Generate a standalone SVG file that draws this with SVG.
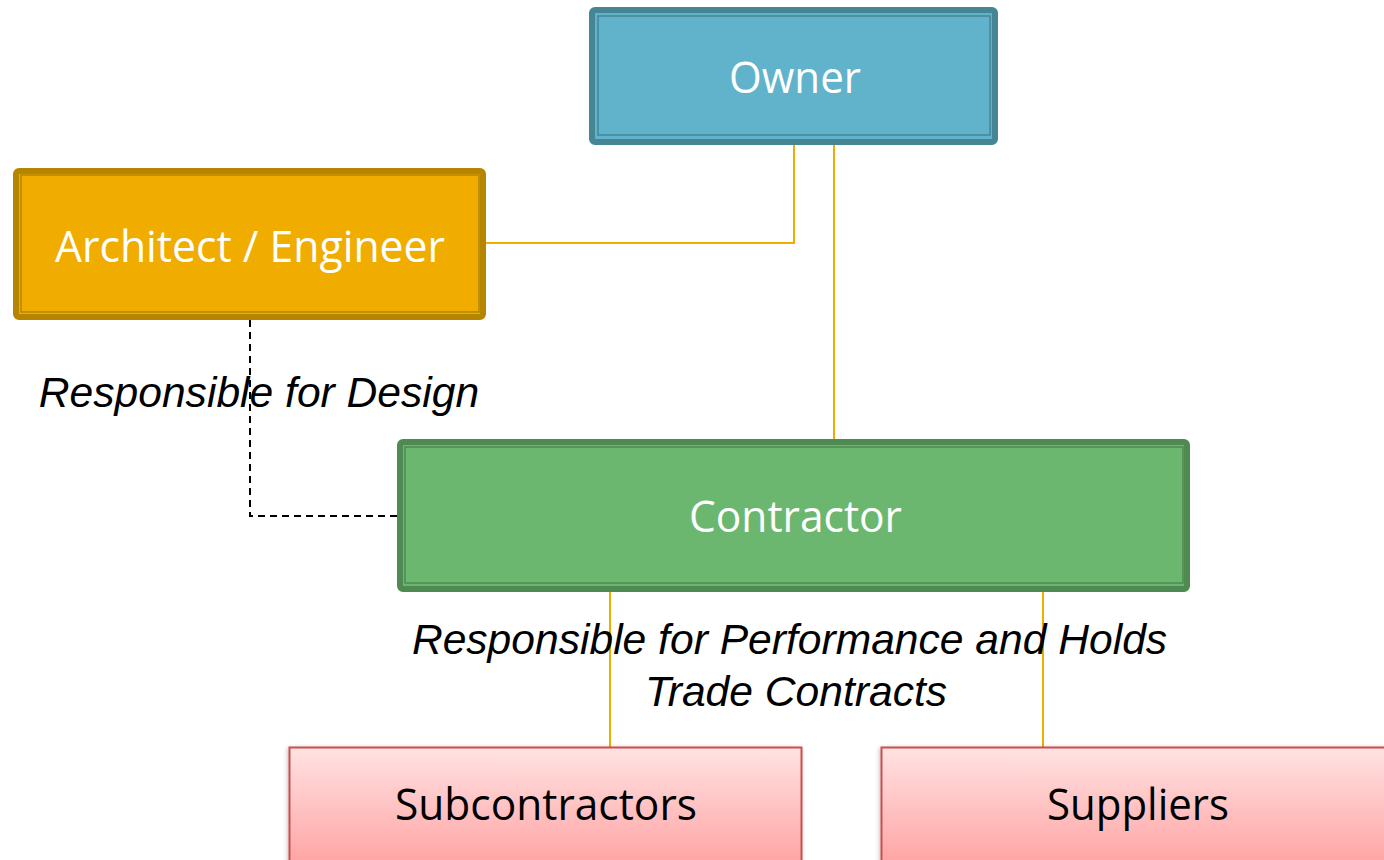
<svg xmlns="http://www.w3.org/2000/svg" width="1384" height="860" viewBox="0 0 1384 860">
<style>
.box-label{font-family:"Open Sans","Noto Sans",sans-serif;font-size:44px;text-anchor:middle;fill:#ffffff}
.sub-label{font-family:"Open Sans","Noto Sans",sans-serif;font-size:44px;text-anchor:middle;fill:#000000}
.note{font-family:"Liberation Sans",Arial,sans-serif;font-size:42.6px;font-style:italic;text-anchor:middle;fill:#000000}
.conn{fill:none;stroke:#f0ad00;stroke-width:2}
.dash{fill:none;stroke:#000000;stroke-width:2;stroke-dasharray:7 5}
.inner{fill:none;stroke-width:1.5}
</style>
<defs>
<linearGradient id="pink" x1="0" y1="0" x2="0" y2="1">
<stop offset="0" stop-color="#ffe2e2"/>
<stop offset="1" stop-color="#ffa2a2"/>
</linearGradient>
<filter id="sh" x="-5%" y="-5%" width="110%" height="110%">
<feDropShadow dx="-1" dy="1" stdDeviation="2" flood-color="#000" flood-opacity="0.25"/>
</filter>
</defs>
<rect width="1384" height="860" fill="#ffffff"/>
<g id="connectors">
<polyline class="conn" points="794,145 794,243 486,243"/>
<line class="conn" x1="834" y1="145" x2="834" y2="439"/>
<line class="conn" x1="610" y1="592" x2="610" y2="747"/>
<line class="conn" x1="1043" y1="592" x2="1043" y2="747"/>
<polyline class="dash" points="250,320 250,516 397,516"/>
</g>
<g id="owner">
<rect x="592" y="10" width="403" height="132" rx="3" fill="#61b3cb" stroke="#468594" stroke-width="6"/>
<rect class="inner" x="598" y="16" width="392" height="119" stroke="#468594"/>
<text class="box-label" x="795" y="93" textLength="132" lengthAdjust="spacingAndGlyphs">Owner</text>
</g>
<g id="architect">
<rect x="16" y="171" width="467" height="146" rx="3" fill="#f0ad00" stroke="#b58500" stroke-width="6"/>
<rect class="inner" x="21" y="175" width="458" height="137" stroke="#b58500"/>
<text class="box-label" x="250" y="262" textLength="390" lengthAdjust="spacingAndGlyphs">Architect / Engineer</text>
</g>
<g id="contractor">
<rect x="400" y="442" width="787" height="147" rx="3" fill="#6cb76f" stroke="#4e8a52" stroke-width="6"/>
<rect class="inner" x="405" y="447" width="778" height="136" stroke="#4e8a52"/>
<text class="box-label" x="795.5" y="532" textLength="213" lengthAdjust="spacingAndGlyphs">Contractor</text>
</g>
<g id="subcontractors">
<rect x="289.5" y="747.5" width="512" height="120" fill="url(#pink)" stroke="#c9504e" stroke-width="2" filter="url(#sh)"/>
<text class="sub-label" x="546" y="820" textLength="302" lengthAdjust="spacingAndGlyphs">Subcontractors</text>
</g>
<g id="suppliers">
<rect x="881.5" y="747.5" width="512" height="120" fill="url(#pink)" stroke="#c9504e" stroke-width="2" filter="url(#sh)"/>
<text class="sub-label" x="1138" y="820" textLength="182" lengthAdjust="spacingAndGlyphs">Suppliers</text>
</g>
<g id="labels">
<text class="note" x="259" y="407">Responsible for Design</text>
<text class="note" x="789.5" y="654">Responsible for Performance and Holds</text>
<text class="note" x="796" y="706">Trade Contracts</text>
</g>
</svg>
